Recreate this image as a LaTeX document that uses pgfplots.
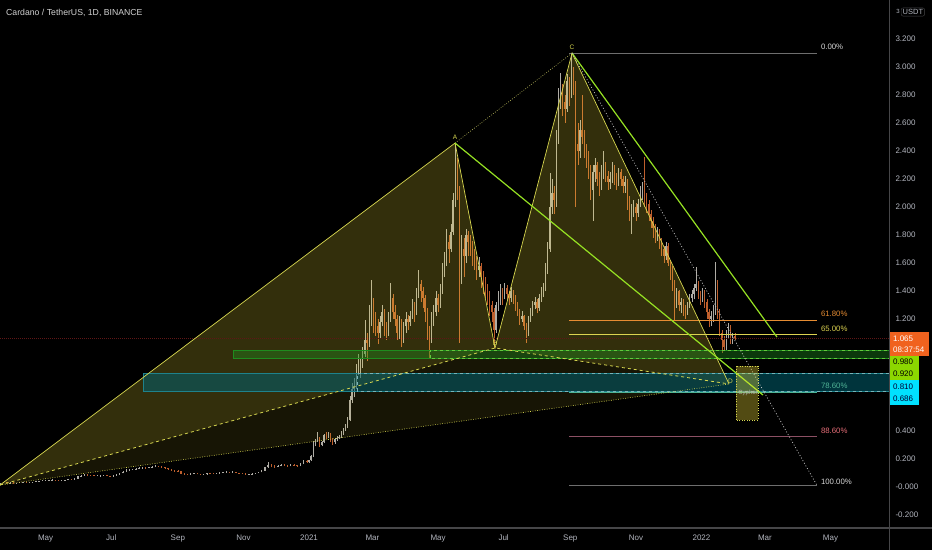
\documentclass[border=0pt]{standalone}
\usepackage{fontspec}
\setmainfont{Liberation Sans}
\usepackage{pgfplots}
\usepackage{pgfplotstable}
\pgfplotsset{compat=1.18}
\definecolor{upc}{RGB}{175,172,165}
\definecolor{dnc}{RGB}{190,95,45}
\definecolor{patY}{RGB}{215,215,80}
\definecolor{fillY}{RGB}{255,235,60}
\definecolor{limeG}{RGB}{150,225,35}
\definecolor{fibgray}{RGB}{110,110,110}
\definecolor{fiborange}{RGB}{230,140,50}
\definecolor{fibyellow}{RGB}{220,210,80}
\definecolor{fibteal}{RGB}{80,180,150}
\definecolor{fibpinkline}{RGB}{140,80,100}
\definecolor{fibpink}{RGB}{230,110,120}
\definecolor{tickgray}{RGB}{178,181,190}
\definecolor{boxorange}{RGB}{240,98,30}
\definecolor{boxlime}{RGB}{140,215,0}
\definecolor{boxcyan}{RGB}{0,225,255}
\definecolor{greenfill}{RGB}{30,140,30}
\definecolor{greenline}{RGB}{100,200,60}
\definecolor{tealfill}{RGB}{0,95,110}
\definecolor{tealline}{RGB}{30,130,140}
\definecolor{priceline}{RGB}{95,22,22}
\definecolor{sepgray}{RGB}{70,70,72}

\pgfplotstableread{
d o h l c
-287 .024 .032 .017 .030
-284 .030 .034 .029 .033
-281 .033 .034 .029 .030
-278 .030 .033 .029 .032
-275 .032 .033 .028 .029
-272 .029 .032 .028 .031
-269 .031 .034 .030 .033
-266 .033 .036 .032 .035
-263 .035 .036 .033 .034
-260 .034 .037 .033 .036
-257 .036 .039 .035 .038
-254 .038 .041 .037 .040
-251 .040 .045 .039 .044
-248 .044 .049 .043 .047
-245 .047 .050 .046 .048
-242 .048 .052 .047 .050
-239 .050 .054 .049 .052
-236 .052 .053 .046 .048
-233 .048 .050 .045 .047
-230 .047 .050 .046 .049
-227 .049 .052 .048 .050
-224 .050 .057 .049 .055
-221 .055 .057 .051 .053
-218 .053 .062 .052 .060
-215 .060 .078 .059 .075
-212 .075 .084 .073 .080
-209 .080 .092 .079 .088
-206 .088 .090 .083 .085
-203 .085 .087 .080 .083
-200 .083 .085 .077 .080
-197 .080 .083 .078 .080
-194 .080 .084 .079 .082
-191 .082 .088 .081 .085
-188 .085 .086 .078 .080
-185 .080 .082 .076 .078
-182 .078 .084 .077 .082
-179 .082 .092 .081 .090
-176 .090 .100 .089 .098
-173 .098 .114 .097 .110
-170 .110 .125 .108 .120
-167 .120 .130 .117 .125
-164 .125 .132 .121 .128
-161 .128 .136 .125 .132
-158 .132 .140 .129 .135
-155 .135 .145 .132 .140
-152 .140 .142 .130 .135
-149 .135 .144 .133 .140
-146 .140 .150 .138 .145
-143 .145 .155 .142 .150
-140 .150 .152 .141 .145
-137 .145 .148 .136 .140
-134 .140 .143 .131 .135
-131 .135 .137 .124 .128
-128 .128 .131 .116 .120
-125 .120 .122 .110 .115
-122 .115 .118 .108 .112
-119 .112 .114 .090 .095
-116 .095 .099 .086 .090
-113 .090 .093 .084 .088
-110 .088 .098 .087 .095
-107 .095 .102 .093 .098
-104 .098 .099 .090 .092
-101 .092 .094 .085 .088
-98 .088 .093 .086 .090
-95 .090 .103 .089 .100
-92 .100 .102 .095 .098
-89 .098 .100 .093 .095
-86 .095 .103 .094 .100
-83 .100 .105 .098 .102
-80 .102 .107 .100 .104
-77 .104 .111 .102 .108
-74 .108 .110 .102 .105
-71 .105 .111 .103 .108
-68 .108 .109 .098 .100
-65 .100 .102 .096 .098
-62 .098 .100 .093 .095
-59 .095 .097 .090 .092
-56 .092 .095 .091 .093
-53 .093 .097 .092 .095
-50 .095 .103 .094 .100
-47 .100 .108 .099 .105
-44 .105 .120 .104 .115
-41 .115 .145 .113 .140
-38 .140 .175 .138 .160
-35 .160 .165 .140 .150
-32 .150 .155 .138 .145
-29 .145 .155 .142 .150
-26 .150 .165 .148 .160
-23 .160 .163 .150 .155
-20 .155 .158 .145 .150
-17 .150 .165 .148 .160
-14 .160 .162 .150 .155
-11 .155 .157 .145 .150
-8 .150 .170 .148 .165
-5 .165 .190 .163 .185
-2 .185 .190 .172 .180
0 .180 .195 .172 .190
2 .190 .230 .185 .220
4 .220 .330 .215 .310
6 .310 .345 .290 .330
8 .330 .390 .320 .350
10 .350 .360 .285 .300
12 .300 .330 .290 .320
14 .320 .380 .315 .370
16 .370 .390 .340 .360
18 .360 .395 .350 .380
20 .380 .385 .320 .340
22 .340 .350 .300 .320
24 .320 .350 .310 .340
26 .340 .365 .330 .350
28 .350 .370 .340 .360
30 .360 .400 .350 .390
32 .390 .420 .370 .410
34 .410 .450 .400 .430
36 .430 .500 .420 .480
38 .480 .650 .470 .620
40 .620 .740 .600 .700
42 .700 .780 .640 .720
44 .720 .880 .700 .840
46 .840 .950 .800 .880
48 .880 .920 .780 .900
50 .900 1.000 .850 .950
52 .950 1.190 .930 1.050
54 1.050 1.100 .900 1.030
56 1.030 1.300 1.000 1.220
58 1.220 1.480 1.150 1.300
60 1.300 1.350 1.100 1.200
62 1.200 1.250 1.080 1.150
64 1.150 1.200 1.020 1.100
66 1.100 1.220 1.060 1.180
68 1.180 1.300 1.150 1.250
70 1.250 1.270 1.080 1.120
72 1.120 1.180 1.050 1.100
74 1.100 1.250 1.080 1.200
76 1.200 1.460 1.180 1.350
78 1.350 1.380 1.200 1.250
80 1.250 1.300 1.150 1.200
82 1.200 1.230 1.050 1.100
84 1.100 1.220 1.060 1.180
86 1.180 1.200 1.000 1.050
88 1.050 1.180 1.030 1.150
90 1.150 1.250 1.100 1.200
92 1.200 1.230 1.120 1.180
94 1.180 1.260 1.150 1.220
96 1.220 1.340 1.200 1.300
98 1.300 1.320 1.180 1.250
100 1.250 1.420 1.230 1.380
102 1.380 1.550 1.350 1.450
104 1.450 1.480 1.320 1.400
106 1.400 1.430 1.280 1.350
108 1.350 1.370 1.180 1.250
110 1.250 1.280 1.050 1.100
112 1.100 1.150 .920 1.050
114 1.050 1.250 1.030 1.200
116 1.200 1.300 1.150 1.250
118 1.250 1.400 1.220 1.350
120 1.350 1.380 1.250 1.300
122 1.300 1.450 1.280 1.400
124 1.400 1.600 1.380 1.550
126 1.550 1.680 1.500 1.620
128 1.620 1.840 1.580 1.750
130 1.750 1.800 1.600 1.700
132 1.700 1.880 1.680 1.820
134 1.820 2.100 1.800 2.050
136 2.050 2.460 2.000 2.300
138 2.300 2.350 2.050 2.100
140 2.100 2.150 1.030 1.600
142 1.600 1.800 1.450 1.700
144 1.700 1.780 1.500 1.650
146 1.650 1.840 1.600 1.800
148 1.800 1.830 1.650 1.750
150 1.750 1.800 1.650 1.720
152 1.720 1.760 1.580 1.650
154 1.650 1.700 1.550 1.600
156 1.600 1.650 1.480 1.550
158 1.550 1.640 1.500 1.580
160 1.580 1.600 1.420 1.500
162 1.500 1.540 1.380 1.450
164 1.450 1.500 1.350 1.400
166 1.400 1.450 1.300 1.380
168 1.380 1.400 1.220 1.300
170 1.300 1.330 1.180 1.250
172 1.250 1.280 .990 1.120
174 1.120 1.320 1.100 1.300
176 1.300 1.400 1.260 1.350
178 1.350 1.450 1.300 1.400
180 1.400 1.420 1.300 1.380
182 1.380 1.460 1.340 1.420
184 1.420 1.440 1.330 1.380
186 1.380 1.400 1.300 1.350
188 1.350 1.430 1.320 1.400
190 1.400 1.410 1.310 1.350
192 1.350 1.370 1.260 1.300
194 1.300 1.320 1.220 1.250
196 1.250 1.270 1.160 1.200
198 1.200 1.260 1.180 1.220
200 1.220 1.230 1.120 1.150
202 1.150 1.170 1.030 1.100
204 1.100 1.220 1.080 1.200
206 1.200 1.280 1.180 1.250
208 1.250 1.330 1.220 1.300
210 1.300 1.360 1.270 1.320
212 1.320 1.340 1.240 1.280
214 1.280 1.380 1.260 1.350
216 1.350 1.430 1.320 1.400
218 1.400 1.460 1.360 1.420
220 1.420 1.600 1.400 1.550
222 1.550 1.750 1.520 1.700
224 1.700 2.240 1.680 2.000
226 2.000 2.200 1.950 2.100
228 2.100 2.150 1.950 2.050
230 2.050 2.550 2.000 2.500
232 2.500 2.850 2.450 2.800
234 2.800 2.960 2.700 2.850
236 2.850 2.880 2.650 2.750
238 2.750 2.800 2.600 2.700
240 2.700 2.950 2.680 2.900
242 2.900 2.930 2.720 2.800
244 2.800 3.100 2.780 2.950
246 2.950 3.000 2.800 2.850
248 2.850 2.900 2.000 2.450
250 2.450 2.600 2.300 2.400
252 2.400 2.620 2.350 2.550
254 2.550 2.800 2.450 2.500
256 2.500 2.550 2.350 2.400
258 2.400 2.450 2.280 2.350
260 2.350 2.400 2.200 2.280
262 2.280 2.300 2.050 2.120
264 2.120 2.300 1.900 2.250
266 2.250 2.350 2.180 2.300
268 2.300 2.320 2.150 2.200
270 2.200 2.250 2.080 2.150
272 2.150 2.300 2.120 2.250
274 2.250 2.400 2.200 2.300
276 2.300 2.320 2.180 2.220
278 2.220 2.260 2.120 2.180
280 2.180 2.250 2.130 2.200
282 2.200 2.320 2.170 2.280
284 2.280 2.300 2.160 2.220
286 2.220 2.240 2.120 2.180
288 2.180 2.280 2.150 2.250
290 2.250 2.270 2.150 2.200
292 2.200 2.220 2.100 2.150
294 2.150 2.220 2.100 2.180
296 2.180 2.200 1.980 2.050
298 2.050 2.080 1.900 1.950
300 1.950 2.020 1.810 1.980
302 1.980 2.050 1.930 2.000
304 2.000 2.030 1.900 1.960
306 1.960 2.060 1.930 2.020
308 2.020 2.150 2.000 2.100
310 2.100 2.180 2.050 2.150
312 2.150 2.360 2.000 2.050
314 2.050 2.100 1.960 2.020
316 2.020 2.050 1.900 1.950
318 1.950 1.980 1.850 1.900
320 1.900 1.930 1.780 1.850
322 1.850 1.880 1.740 1.800
324 1.800 1.860 1.760 1.820
326 1.820 1.840 1.700 1.750
328 1.750 1.780 1.650 1.700
330 1.700 1.720 1.600 1.650
332 1.650 1.750 1.620 1.720
334 1.720 1.740 1.580 1.600
336 1.600 1.620 1.480 1.550
338 1.550 1.580 1.400 1.450
340 1.450 1.480 1.190 1.350
342 1.350 1.420 1.280 1.400
344 1.400 1.410 1.260 1.300
346 1.300 1.350 1.240 1.320
348 1.320 1.340 1.220 1.280
350 1.280 1.300 1.200 1.250
352 1.250 1.320 1.230 1.300
354 1.300 1.380 1.280 1.350
356 1.350 1.410 1.320 1.380
358 1.380 1.450 1.340 1.420
360 1.420 1.570 1.400 1.450
362 1.450 1.470 1.340 1.380
364 1.380 1.400 1.300 1.360
366 1.360 1.420 1.320 1.400
368 1.400 1.410 1.280 1.320
370 1.320 1.340 1.200 1.250
372 1.250 1.270 1.140 1.200
374 1.200 1.260 1.150 1.220
376 1.220 1.300 1.180 1.250
378 1.250 1.610 1.230 1.450
380 1.450 1.480 1.200 1.250
382 1.250 1.270 1.080 1.100
384 1.100 1.120 .960 1.050
386 1.050 1.080 .970 1.000
388 1.000 1.120 .980 1.100
390 1.100 1.170 1.060 1.150
392 1.150 1.160 1.020 1.050
394 1.050 1.100 1.020 1.080
396 1.080 1.100 1.050 1.065
}\candles

\begin{document}
\begin{tikzpicture}
\fill[black] (0pt,-22pt) rectangle (932pt,528pt);
\begin{axis}[
  at={(0pt,0pt)}, anchor=south west,
  width=889pt, height=528pt, scale only axis,
  xmin=-287.4, xmax=539.4, ymin=-0.293, ymax=3.479,
  clip=false,
  axis line style={draw=none},
  major tick length=0pt,
  tick style={draw=none},
  xtick={-245,-184,-122,-61,0,59,120,181,243,304,365,424,485},
  xticklabels={May,Jul,Sep,Nov,2021,Mar,May,Jul,Sep,Nov,2022,Mar,May},
  ytick={-0.2,0,0.2,0.4,1.2,1.4,1.6,1.8,2.0,2.2,2.4,2.6,2.8,3.0,3.2},
  yticklabels={-0.200,-0.000,0.200,0.400,1.200,1.400,1.600,1.800,2.000,2.200,2.400,2.600,2.800,3.000,3.200},
  yticklabel pos=right,
  xticklabel pos=lower,
  ticklabel style={font=\fontsize{8}{9}\selectfont, text=tickgray},
  yticklabel style={anchor=west, xshift=3pt},
  xticklabel style={anchor=north, yshift=-3pt},
  /pgf/number format/assume math mode=true,
]
% candles: wicks
\addplot[draw=none, mark=none, forget plot,
  x filter/.expression={\thisrow{c}>=\thisrow{o} ? x : nan},
  error bars/.cd, y dir=plus, y explicit, error mark=none,
  error bar style={draw=upc, solid, line width=0.6pt}]
  table[x=d, y=l, y error expr=\thisrow{h}-\thisrow{l}] {\candles};
\addplot[draw=none, mark=none, forget plot,
  x filter/.expression={\thisrow{c}<\thisrow{o} ? x : nan},
  error bars/.cd, y dir=plus, y explicit, error mark=none,
  error bar style={draw=dnc, solid, line width=0.6pt}]
  table[x=d, y=l, y error expr=\thisrow{h}-\thisrow{l}] {\candles};
% candles: bodies
\addplot[draw=none, mark=none, forget plot,
  x filter/.expression={\thisrow{c}>=\thisrow{o} ? x : nan},
  error bars/.cd, y dir=plus, y explicit, error mark=none,
  error bar style={draw=upc, solid, line width=1.4pt}]
  table[x=d, y=o, y error expr=\thisrow{c}-\thisrow{o}] {\candles};
\addplot[draw=none, mark=none, forget plot,
  x filter/.expression={\thisrow{c}<\thisrow{o} ? x : nan},
  error bars/.cd, y dir=plus, y explicit, error mark=none,
  error bar style={draw=dnc, solid, line width=1.4pt}]
  table[x=d, y=c, y error expr=\thisrow{o}-\thisrow{c}] {\candles};

% pattern fills
\fill[fillY, fill opacity=0.20] (axis cs:-287.4,0.014) -- (axis cs:135.8,2.457) -- (axis cs:173,0.993) -- cycle;
\fill[fillY, fill opacity=0.20] (axis cs:173,0.993) -- (axis cs:244.6,3.100) -- (axis cs:390.6,0.736) -- cycle;
\fill[fillY, fill opacity=0.09] (axis cs:-287.4,0.014) -- (axis cs:173,0.993) -- (axis cs:390.6,0.736) -- cycle;

% current price line
\draw[priceline, line width=0.6pt, dash pattern=on 1pt off 1pt] (axis cs:-287.4,1.065) -- (axis cs:539.4,1.065);

% zones
\fill[tealfill, fill opacity=0.55] (axis cs:-154.4,0.686) rectangle (axis cs:539.4,0.810);
\draw[tealline, line width=0.5pt] (axis cs:-154.4,0.686) rectangle (axis cs:539.4,0.810);
\draw[tealline!60!white, line width=0.6pt, dashed] (axis cs:44.6,0.686) rectangle (axis cs:539.4,0.810);
\fill[greenfill, fill opacity=0.40] (axis cs:-70.7,0.920) rectangle (axis cs:539.4,0.980);
\draw[greenfill, line width=0.5pt] (axis cs:-70.7,0.920) rectangle (axis cs:539.4,0.980);
\draw[greenline, line width=0.6pt, dashed] (axis cs:112.5,0.920) rectangle (axis cs:539.4,0.980);

% fib levels
\draw[fibgray, line width=0.8pt] (axis cs:241.8,3.100) -- (axis cs:472.4,3.100);
\draw[fiborange, line width=0.6pt] (axis cs:241.8,1.193) -- (axis cs:472.4,1.193);
\draw[fibyellow, line width=0.6pt] (axis cs:241.8,1.093) -- (axis cs:472.4,1.093);
\draw[fibteal, line width=0.6pt] (axis cs:241.8,0.679) -- (axis cs:472.4,0.679);
\draw[fibpinkline, line width=0.6pt] (axis cs:241.8,0.364) -- (axis cs:472.4,0.364);
\draw[fibgray, line width=0.8pt] (axis cs:241.8,0.011) -- (axis cs:472.4,0.011);
\begin{scope}[every node/.style={anchor=west, inner sep=0pt, font=\fontsize{7.8}{9}\selectfont}]
\node[text=white!85!black] at (axis cs:476,3.142) {0.00\%};
\node[text=fiborange] at (axis cs:476,1.236) {61.80\%};
\node[text=fibyellow] at (axis cs:476,1.129) {65.00\%};
\node[text=fibteal] at (axis cs:476,0.722) {78.60\%};
\node[text=fibpink] at (axis cs:476,0.400) {88.60\%};
\node[text=white!85!black] at (axis cs:476,0.040) {100.00\%};
\end{scope}

% pattern lines
\draw[patY, line width=0.7pt] (axis cs:-287.4,0.014) -- (axis cs:135.8,2.457) -- (axis cs:173,0.993) -- (axis cs:244.6,3.100) -- (axis cs:390.6,0.736);
\draw[patY, line width=0.8pt, dash pattern=on 3pt off 3pt] (axis cs:-287.4,0.014) -- (axis cs:173,0.993) -- (axis cs:390.6,0.736);
\draw[patY, line width=0.6pt, dash pattern=on 0.8pt off 1.6pt] (axis cs:-287.4,0.014) -- (axis cs:390.6,0.736);
\draw[patY!70!gray, line width=0.6pt, dash pattern=on 0.8pt off 1.6pt] (axis cs:135.8,2.457) -- (axis cs:244.6,3.100);
% lime trend lines
\draw[limeG, line width=1.2pt] (axis cs:135.8,2.457) -- (axis cs:422.2,0.657);
\draw[limeG, line width=1.2pt] (axis cs:244.6,3.100) -- (axis cs:435.2,1.071);
% dotted projection
\draw[white!75!black, line width=0.7pt, dash pattern=on 1pt off 2pt] (axis cs:244.6,3.100) -- (axis cs:472.4,0.011);
% cypher box
\fill[fillY, fill opacity=0.32] (axis cs:397.1,0.479) rectangle (axis cs:417.6,0.864);
\draw[patY, line width=0.7pt, dash pattern=on 1pt off 1.5pt] (axis cs:397.1,0.479) rectangle (axis cs:417.6,0.864);
\node[text=white!70!black, font=\fontsize{6}{7}\selectfont, inner sep=0pt] at (axis cs:408.3,0.671) {Cypher};
% point labels
\begin{scope}[every node/.style={text=patY, font=\fontsize{6.5}{7}\selectfont, inner sep=0pt}]
\node at (axis cs:135.8,2.50) {A};
\node at (axis cs:173,1.025) {B};
\node at (axis cs:244.6,3.143) {C};
\node at (axis cs:392,0.757) {D};
\end{scope}

% right price boxes
\fill[boxorange] (axis cs:539.4,0.936) rectangle (axis cs:576.6,1.107);
\fill[boxlime] (axis cs:539.4,0.764) rectangle (axis cs:567.3,0.936);
\fill[boxcyan] (axis cs:539.4,0.586) rectangle (axis cs:567.3,0.764);
\begin{scope}[every node/.style={anchor=west, inner sep=0pt, font=\fontsize{8}{9}\selectfont}]
\node[text=white] at (axis cs:543,1.057) {1.065};
\node[text=white] at (axis cs:543,0.979) {08:37:54};
\node[text=black] at (axis cs:543,0.893) {0.980};
\node[text=black] at (axis cs:543,0.807) {0.920};
\node[text=black!80!blue] at (axis cs:543,0.714) {0.810};
\node[text=black!80!blue] at (axis cs:543,0.629) {0.686};
\end{scope}
\end{axis}
% separators
\draw[sepgray, line width=1.6pt] (0pt,0pt) -- (932pt,0pt);
\draw[sepgray, line width=0.8pt] (889pt,-22pt) -- (889pt,528pt);
% title
\node[anchor=west, inner sep=0pt, text=white!82!black, font=\fontsize{8.7}{10}\selectfont] at (6pt,515pt) {Cardano / TetherUS, 1D, BINANCE};
\node[anchor=east, inner sep=0pt, text=tickgray, font=\fontsize{6}{7}\selectfont] at (900pt,517pt) {3};
\node[anchor=west, inner sep=1.5pt, draw=sepgray, rounded corners=2pt, text=tickgray, font=\fontsize{7.5}{8}\selectfont] at (901pt,516pt) {USDT};
\pgfresetboundingbox
\path[use as bounding box] (0pt,-22pt) rectangle (932pt,528pt);
\end{tikzpicture}
\end{document}
